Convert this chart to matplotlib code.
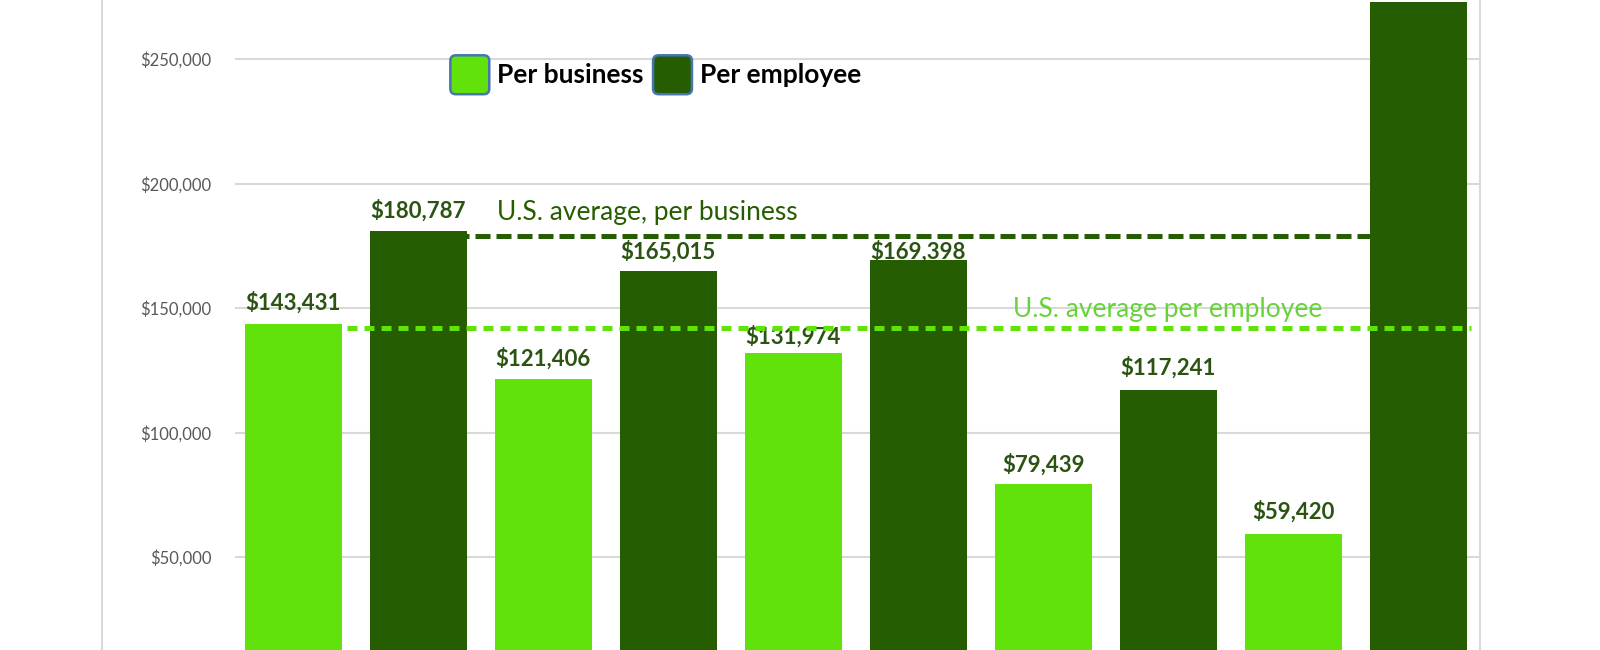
import matplotlib as mpl
mpl.use('Agg')
import matplotlib.pyplot as plt
import matplotlib.patches as mpatches
from matplotlib.patches import FancyBboxPatch
from matplotlib.legend_handler import HandlerPatch
from matplotlib.lines import Line2D
from matplotlib.ticker import FuncFormatter
import numpy as np

plt.rcParams['font.family'] = ['Lato', 'DejaVu Sans']

# values (the last employee bar runs off the top, estimated)
per_business = [143431, 121406, 131974, 79439, 59420]
per_employee = [180787, 165015, 169398, 117241, 273000]
label_employee = [True, True, True, True, False]
avg_business = 179000   # dark dashed line
avg_employee = 142200   # light dashed line

light = '#62e20b'
dark = '#275d02'
label_col = '#2b5413'
light_text = '#68d23c'
grid_col = '#d9d9d9'

fig = plt.figure(figsize=(16, 6.5), dpi=100)
# plot area runs past the bottom and top of the image, like the cropped original
ax = fig.add_axes([235 / 1600, -31.6 / 650, 1245 / 1600, 697.2 / 650])
ax.set_xlim(-0.467, 9.493)
ax.set_ylim(0, 280000)

w = 0.776
xb = np.arange(len(per_business)) * 2
xe = xb + 1
ax.bar(xb, per_business, width=w, color=light, zorder=2)
ax.bar(xe, per_employee, width=w, color=dark, zorder=2)

# data labels
offs_b = [16, 15, 11.5, 14, 16]
offs_e = [15, 14, 6, 16, 15]
for x, v, o in zip(xb, per_business, offs_b):
    ax.annotate(f'${v:,.0f}', (x, v), xytext=(0, o), textcoords='offset points',
                ha='center', va='center', fontsize=16, fontweight='bold', color=label_col)
for x, v, o, show in zip(xe, per_employee, offs_e, label_employee):
    if show:
        ax.annotate(f'${v:,.0f}', (x, v), xytext=(0, o), textcoords='offset points',
                    ha='center', va='center', fontsize=16, fontweight='bold', color=label_col)

# average lines
l1, = ax.plot([xe[0] - w / 2, xe[-1] - w / 2], [avg_business] * 2, color=dark, lw=3.6, zorder=3)
l1.set_dashes([3, 1.2])
l2, = ax.plot([xb[0] - w / 2, xe[-1] + w / 2 + 0.03], [avg_employee] * 2, color=light, lw=3.6, zorder=3)
l2.set_dashes([2, 1.4])
ax.text(1.63, 188400, 'U.S. average, per business', fontsize=19, color=dark,
        ha='left', va='center', zorder=4)
ax.text(5.757, 149500, 'U.S. average per employee', fontsize=19, color=light_text,
        ha='left', va='center', zorder=4)

# axes styling
ax.set_yticks(range(50000, 250001, 50000))
ax.yaxis.set_major_formatter(FuncFormatter(lambda v, p: f'${v:,.0f}'))
ax.tick_params(axis='y', length=0, pad=17, labelsize=12, labelcolor='#595959')
ax.set_xticks([])
ax.yaxis.grid(True, color=grid_col, lw=1.5)
ax.set_axisbelow(True)
for s in ax.spines.values():
    s.set_visible(False)

# chart border lines
for xf in (102 / 1600, 1480 / 1600):
    fig.add_artist(Line2D([xf, xf], [0, 1], color=grid_col, lw=1.5, transform=fig.transFigure))


class RoundBox(HandlerPatch):
    # square legend key with rounded corners
    def create_artists(self, legend, orig_handle, xdescent, ydescent, width, height, fontsize, trans):
        side = width - 2
        yc = -ydescent + height / 2
        p = FancyBboxPatch((-xdescent + 1, yc - side / 2), side, side,
                           boxstyle='round,pad=0,rounding_size=4',
                           facecolor=orig_handle.get_facecolor(), edgecolor='#4576b0',
                           lw=1.8, transform=trans)
        return [p]


handles = [mpatches.Patch(facecolor=light, label='Per business'),
           mpatches.Patch(facecolor=dark, label='Per employee')]
fig.legend(handles=handles, loc='center left', bbox_to_anchor=(0.2806, 0.885),
           ncol=2, frameon=False, borderpad=0, borderaxespad=0,
           handlelength=1.58, handleheight=1.58,
           handletextpad=0.25, columnspacing=0.3,
           prop={'size': 19, 'weight': 'bold'},
           handler_map={mpatches.Patch: RoundBox()})

fig.savefig('out.png', dpi=100)
